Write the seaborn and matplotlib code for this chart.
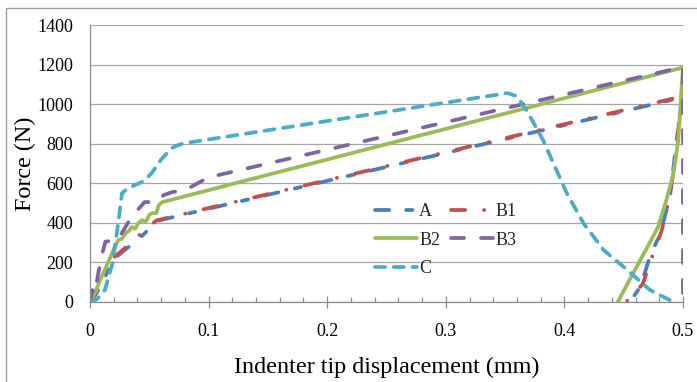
import matplotlib
matplotlib.use("Agg")
import matplotlib.pyplot as plt
from matplotlib.patches import Rectangle
from matplotlib.ticker import MultipleLocator
import seaborn as sns
import pandas as pd

# ---- data ----
a_x = [0, 0.005, 0.0126, 0.019, 0.027, 0.033, 0.038, 0.049, 0.057, 0.06, 0.5,
       0.497, 0.492, 0.489, 0.481, 0.472, 0.464, 0.455]
a_y = [0, 40, 126, 212, 252, 280, 300, 364, 410, 415, 1035,
       934, 682, 530, 349, 227, 76, 0]

b1_x = [0, 0.004, 0.011, 0.018, 0.026, 0.032, 0.036, 0.047, 0.056, 0.06, 0.5,
        0.497, 0.493, 0.489, 0.482, 0.474, 0.466, 0.452]
b1_y = [0, 35, 130, 215, 255, 285, 305, 370, 412, 418, 1040,
        930, 700, 540, 360, 230, 90, 0]

b2_x = [0, 0.004, 0.01, 0.015, 0.021, 0.024, 0.027, 0.03, 0.033, 0.035, 0.038,
        0.041, 0.044, 0.047, 0.05, 0.052, 0.056, 0.058, 0.061, 0.5,
        0.499, 0.496, 0.492, 0.486, 0.479, 0.47, 0.458, 0.445]
b2_y = [0, 45, 130, 197, 280, 313, 320, 348, 360, 379, 370,
        400, 414, 405, 440, 449, 450, 490, 505, 1185,
        1100, 818, 651, 515, 379, 278, 146, 0]

b3_x = [0, 0.002, 0.004, 0.007, 0.011, 0.013, 0.023, 0.028, 0.035, 0.046, 0.056,
        0.062, 0.069, 0.08, 0.1, 0.5, 0.5, 0.5]
b3_y = [0, 60, 40, 146, 260, 305, 313, 360, 430, 505, 505,
        540, 555, 565, 630, 1188, 600, 0]

c_x = [0, 0.006, 0.0126, 0.019, 0.023, 0.027, 0.032, 0.038, 0.045, 0.052, 0.06,
       0.069, 0.075, 0.08, 0.352, 0.36, 0.368, 0.382, 0.402, 0.416, 0.433,
       0.453, 0.472, 0.492]
c_y = [0, 15, 61, 197, 364, 550, 575, 591, 610, 651, 720,
       778, 795, 803, 1056, 1040, 970, 818, 550, 399, 263,
       162, 61, 0]

series_names = ["A", "B1", "B2", "B3", "C"]
series_x = [a_x, b1_x, b2_x, b3_x, c_x]
series_y = [a_y, b1_y, b2_y, b3_y, c_y]
colors = ["#4A7EBB", "#C0504D", "#9BBB59", "#8064A2", "#4BACC6"]
dash_styles = [(3.8, 4.5, 1.7, 4.5), (3.8, 5.0, 0.05, 5.0), None, (3.5, 4.5), (2.7, 2.3)]

y_ticks = [0, 200, 400, 600, 800, 1000, 1200, 1400]
x_ticks = [0, 0.1, 0.2, 0.3, 0.4, 0.5]
x_tick_labels = ["0", "0.1", "0.2", "0.3", "0.4", "0.5"]

# ---- plot ----
sns.set_theme(style="white")
plt.rcParams["font.family"] = ["Liberation Serif", "DejaVu Serif"]

W, H = 697, 382
fig = plt.figure(figsize=(W / 100, H / 100), dpi=100)
ax = fig.add_axes([90 / W, 1 - 302 / H, (683 - 90) / W, (302 - 25) / H])

lw = 2.7
handles = {}
for name, xs, ys, col, ds in zip(series_names, series_x, series_y, colors, dash_styles):
    df = pd.DataFrame({"x": xs, "y": ys})
    kw = dict(color=col, linewidth=lw, label=name, solid_capstyle="round",
              solid_joinstyle="round")
    if ds is not None:
        kw["dashes"] = ds
        kw["dash_capstyle"] = "round"
    sns.lineplot(data=df, x="x", y="y", sort=False, estimator=None, ax=ax, **kw)
    handles[name] = ax.lines[-1]

ax.set_xlim(0, 0.5)
ax.set_ylim(0, 1400)
ax.set_yticks(y_ticks)
ax.set_yticklabels([str(v) for v in y_ticks])
ax.set_xticks(x_ticks)
ax.set_xticklabels(x_tick_labels)
ax.xaxis.set_minor_locator(MultipleLocator(0.02))

ax.grid(axis="y", color="#A6A6A6", linewidth=0.9)
ax.set_axisbelow(True)
for s in ["top", "right"]:
    ax.spines[s].set_visible(False)
for s in ["left", "bottom"]:
    ax.spines[s].set_color("#8C8C8C")
    ax.spines[s].set_linewidth(0.9)

ax.tick_params(axis="y", length=0, pad=12, labelsize=13, labelcolor="black")
ax.tick_params(axis="x", which="major", direction="inout", length=8, width=0.9,
               color="#8C8C8C", pad=11, labelsize=13, labelcolor="black", bottom=True)
ax.tick_params(axis="x", which="minor", direction="in", length=3.5, width=0.9,
               color="#8C8C8C", bottom=True)

ax.set_xlabel("Indenter tip displacement (mm)", fontsize=17.4, color="black")
ax.set_ylabel("Force (N)", fontsize=17.4, color="black")
ax.xaxis.label.set_verticalalignment("center")
ax.xaxis.set_label_coords(0.5, (302 - 367) / 277, transform=ax.transAxes)
ax.yaxis.set_label_coords((36 - 90) / 593, 0.5, transform=ax.transAxes)

# row-wise order (A B1 / B2 B3 / C) with column-filled legend
order = ["A", "B2", "C", "B1", "B3"]
ax.legend([handles[n] for n in order], order,
          loc="upper left", bbox_to_anchor=((375 - 90) / 593, (302 - 203) / 277),
          ncol=2, frameon=False, fontsize=13, handlelength=2.3, handletextpad=0.15,
          columnspacing=0.6, labelspacing=0.65, borderpad=0, borderaxespad=0)

# outer chart-area border
fig.patches.append(Rectangle((6 / W, -0.1), 2, 1 - 8 / H + 0.1, transform=fig.transFigure,
                             fill=False, edgecolor="#A0A0A0", linewidth=1.0))

fig.savefig("out.png", dpi=100, facecolor="white")
